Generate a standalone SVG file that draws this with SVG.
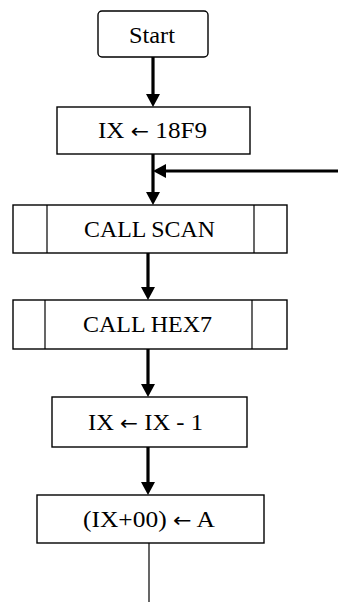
<svg xmlns="http://www.w3.org/2000/svg" width="338" height="602" viewBox="0 0 338 602">
<defs>
<marker id="ah" markerUnits="userSpaceOnUse" markerWidth="14" markerHeight="14" refX="5" refY="7" orient="auto">
<path d="M0,0 L13,7 L0,14 Z" fill="#000"/>
</marker>
<style>
.box{fill:#fff;stroke:#000;stroke-width:1.4}
.lbl{font-family:"Liberation Serif","Times New Roman",serif;font-size:23px;fill:#000;text-anchor:middle}
.ar{font-family:"DejaVu Sans",sans-serif;font-size:20px}
.arr{stroke:#000;stroke-width:3.2;fill:none;marker-end:url(#ah)}
.thin{stroke:#000;stroke-width:1.2;fill:none}
</style>
</defs>
<rect width="338" height="602" fill="#fff"/>
<g id="connectors">
<line class="arr" x1="153" y1="57" x2="153" y2="99"/>
<line class="arr" x1="153" y1="154" x2="153" y2="197"/>
<line class="arr" x1="338" y1="171" x2="161" y2="171"/>
<line class="arr" x1="148" y1="252" x2="148" y2="292"/>
<line class="arr" x1="148" y1="348" x2="148" y2="389"/>
<line class="arr" x1="148" y1="446" x2="148" y2="487"/>
<line class="thin" x1="149" y1="543" x2="149" y2="602"/>
</g>
<g id="start">
<rect class="box" x="98" y="11" width="110" height="46" rx="4"/>
<text class="lbl" x="152" y="43" textLength="46" lengthAdjust="spacingAndGlyphs">Start</text>
</g>
<g id="ix_init">
<rect class="box" x="57" y="107" width="193" height="47"/>
<text class="lbl" x="152.5" y="138" textLength="109" lengthAdjust="spacingAndGlyphs">IX <tspan class="ar">←</tspan> 18F9</text>
</g>
<g id="call_scan">
<rect class="box" x="13" y="205" width="274" height="48"/>
<line class="thin" x1="47" y1="205" x2="47" y2="253"/>
<line class="thin" x1="254" y1="205" x2="254" y2="253"/>
<text class="lbl" x="149.5" y="237" textLength="131" lengthAdjust="spacingAndGlyphs">CALL SCAN</text>
</g>
<g id="call_hex7">
<rect class="box" x="13" y="300" width="274" height="49"/>
<line class="thin" x1="45" y1="300" x2="45" y2="349"/>
<line class="thin" x1="252" y1="300" x2="252" y2="349"/>
<text class="lbl" x="147.5" y="332" textLength="129" lengthAdjust="spacingAndGlyphs">CALL HEX7</text>
</g>
<g id="ix_dec">
<rect class="box" x="52" y="397" width="195" height="50"/>
<text class="lbl" x="145.5" y="430" textLength="115" lengthAdjust="spacingAndGlyphs">IX <tspan class="ar">←</tspan> IX - 1</text>
</g>
<g id="store">
<rect class="box" x="37" y="495" width="227" height="48"/>
<text class="lbl" x="149" y="527" textLength="132" lengthAdjust="spacingAndGlyphs">(IX+00) <tspan class="ar">←</tspan> A</text>
</g>
</svg>
